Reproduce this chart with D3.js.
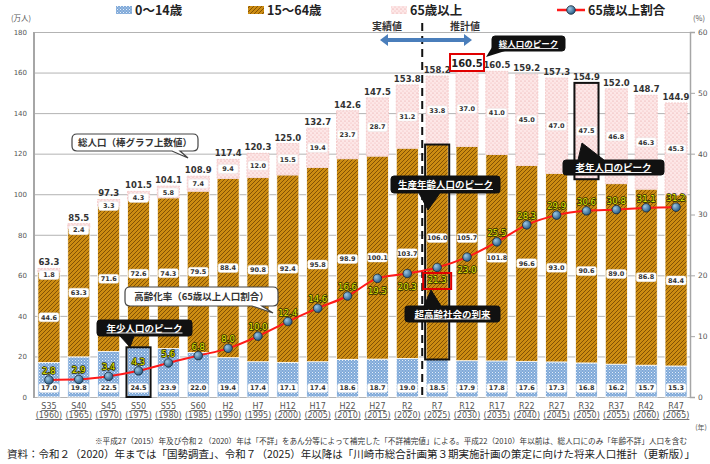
<!DOCTYPE html>
<html><head><meta charset="utf-8">
<script src="https://cdn.jsdelivr.net/npm/d3@7"></script>
<style>body{margin:0;background:#fff}svg{display:block}</style>
</head><body>
<svg id="c" width="710" height="464"></svg>
<script>
const categories = ["S35","S40","S45","S50","S55","S60","H2","H7","H12","H17","H22","H27","R2","R7","R12","R17","R22","R27","R32","R37","R42","R47"];
const years = ["(1960)","(1965)","(1970)","(1975)","(1980)","(1985)","(1990)","(1995)","(2000)","(2005)","(2010)","(2015)","(2020)","(2025)","(2030)","(2035)","(2040)","(2045)","(2050)","(2055)","(2060)","(2065)"];
const young   = [17.0,19.8,22.5,24.5,23.9,22.0,19.4,17.4,17.1,17.4,18.6,18.7,19.0,18.5,17.9,17.8,17.6,17.3,16.8,16.2,15.7,15.3];
const working = [44.6,63.3,71.6,72.6,74.3,79.5,88.4,90.8,92.4,95.8,98.9,100.1,103.7,106.0,105.7,101.8,96.6,93.0,90.6,89.0,86.8,84.4];
const elderly = [1.8,2.4,3.3,4.3,5.8,7.4,9.4,12.0,15.5,19.4,23.7,28.7,31.2,33.8,37.0,41.0,45.0,47.0,47.5,46.8,46.3,45.3];
const totals  = [63.3,85.5,97.3,101.5,104.1,108.9,117.4,120.3,125.0,132.7,142.6,147.5,153.8,158.2,160.5,160.5,159.2,157.3,154.9,152.0,148.7,144.9];
const ratio   = [2.8,2.9,3.4,4.3,5.6,6.8,8.0,10.0,12.4,14.6,16.6,19.5,20.3,21.3,23.0,25.5,28.3,29.9,30.6,30.8,31.1,31.2];
const leftTicks = [0,20,40,60,80,100,120,140,160,180];
const rightTicks = [0,10,20,30,40,50,60];
const legendLabels = ["0～14歳","15～64歳","65歳以上","65歳以上割合"];

const JP = "'Noto Sans CJK JP','Noto Sans',sans-serif";
const NUM = "'DejaVu Sans',sans-serif";
const svg = d3.select("#c");
const x = d3.scaleBand().domain(categories).range([34,691]).paddingInner(0.26).paddingOuter(0.13);
const y = d3.scaleLinear().domain([0,180]).range([397,32]);
const y2 = d3.scaleLinear().domain([0,60]).range([397,32]);
const bw = x.bandwidth();
const cx = c => x(c) + bw/2;

// patterns
const defs = svg.append("defs");
const pb = defs.append("pattern").attr("id","pBlue").attr("patternUnits","userSpaceOnUse").attr("width",3).attr("height",3);
pb.append("rect").attr("width",3).attr("height",3).attr("fill","#7fa9d9");
pb.append("rect").attr("x",0).attr("y",0).attr("width",1).attr("height",1).attr("fill","#e4eef9");
pb.append("rect").attr("x",1.5).attr("y",1.5).attr("width",1).attr("height",1).attr("fill","#c6d9ef");
const po = defs.append("pattern").attr("id","pOrange").attr("patternUnits","userSpaceOnUse").attr("width",4).attr("height",4);
po.append("rect").attr("width",4).attr("height",4).attr("fill","#cc8c12");
po.append("path").attr("d","M-1,1 l2,-2 M0,4 l4,-4 M3,5 l2,-2").attr("stroke","#7a4c02").attr("stroke-width",0.9);
const pp = defs.append("pattern").attr("id","pPink").attr("patternUnits","userSpaceOnUse").attr("width",4).attr("height",4);
pp.append("rect").attr("width",4).attr("height",4).attr("fill","#fde7e7");
pp.append("circle").attr("cx",1).attr("cy",1).attr("r",0.6).attr("fill","#e49a9a");
pp.append("circle").attr("cx",3).attr("cy",3).attr("r",0.6).attr("fill","#eeb4b4");
const rg = defs.append("radialGradient").attr("id","gMark").attr("cx","35%").attr("cy","35%").attr("r","65%");
rg.append("stop").attr("offset","0%").attr("stop-color","#9cc8e6");
rg.append("stop").attr("offset","100%").attr("stop-color","#2a5d86");

// grid + left axis
const gl = svg.append("g").attr("transform","translate(34,0)")
  .call(d3.axisLeft(y).tickValues(leftTicks).tickSize(-656).tickPadding(7));
gl.select(".domain").remove();
gl.selectAll(".tick line").attr("stroke","#b3b3b3").attr("stroke-width",1);
gl.selectAll(".tick text").attr("fill","#555").style("font-family",NUM).style("font-size","7px");
svg.append("line").attr("x1",34).attr("x2",34).attr("y1",32).attr("y2",398).attr("stroke","#a6a6a6").attr("stroke-width",2);

// right axis
const gr = svg.append("g").attr("transform","translate(690,0)")
  .call(d3.axisRight(y2).tickValues(rightTicks).tickSize(5).tickPadding(3));
gr.select(".domain").attr("stroke","#a6a6a6").attr("stroke-width",1.5);
gr.selectAll(".tick line").attr("stroke","#a6a6a6");
gr.selectAll(".tick text").attr("fill","#555").style("font-family",NUM).style("font-size","7.5px");

svg.append("text").attr("x",21).attr("y",21).attr("text-anchor","middle").attr("fill","#555").style("font-family",JP).style("font-size","7.5px").text("(万人)");
svg.append("text").attr("x",699).attr("y",21).attr("text-anchor","middle").attr("fill","#555").style("font-family",JP).style("font-size","7.5px").text("(%)");

// bars
const stackData = categories.map((c,i)=>({c, young:young[i], working:working[i], elderly:elderly[i]}));
const keys = ["young","working","elderly"];
const fills = {young:"url(#pBlue)", working:"url(#pOrange)", elderly:"url(#pPink)"};
const series = d3.stack().keys(keys)(stackData);
series.forEach(s=>{
  svg.append("g").selectAll("rect").data(s).join("rect")
    .attr("x",d=>x(d.data.c)).attr("width",bw)
    .attr("y",d=>y(d[1])).attr("height",d=>y(d[0])-y(d[1]))
    .attr("fill",fills[s.key])
    .attr("stroke", s.key==="elderly" ? "#f3c4c4" : "#ffffff")
    .attr("stroke-width",0.8).attr("stroke-dasharray", s.key==="elderly" ? "2,1" : null);
});

// segment label helper
function boxLabel(g, cxv, cyv, txt){
  const w = 20, h = 9;
  g.append("rect").attr("x",cxv-w/2).attr("y",cyv-h/2).attr("width",w).attr("height",h).attr("rx",2)
    .attr("fill","#fff").attr("stroke","#e6e6e6").attr("stroke-width",0.4);
  g.append("text").attr("x",cxv).attr("y",cyv+2.3).attr("text-anchor","middle")
    .attr("fill","#333").style("font-family",NUM).style("font-size","6.5px").style("font-weight","bold").text(txt);
}
const lbl = svg.append("g");
const sY = series[0], sW = series[1], sE = series[2];
categories.forEach((c,i)=>{
  boxLabel(lbl, cx(c), 388, young[i].toFixed(1));
  let wy = y((sW[i][0]+sW[i][1])/2);
  if (c==="R7"||c==="R12") wy = 238;
  boxLabel(lbl, cx(c), wy, working[i].toFixed(1));
  const top = y(sE[i][1]);
  const ey = Math.max(y((sE[i][0]+sE[i][1])/2), top+6.5);
  boxLabel(lbl, cx(c), ey, elderly[i].toFixed(1));
});

// total labels
categories.forEach((c,i)=>{
  if (c==="R12") return;
  svg.append("text").attr("x",cx(c)).attr("y",y(sE[i][1])-3).attr("text-anchor","middle")
    .attr("fill","#333").style("font-family",NUM).style("font-size","8.5px").style("font-weight","bold").text(totals[i].toFixed(1));
});
// peak total red box
{
  const i = categories.indexOf("R12");
  const c = cx("R12");
  svg.append("rect").attr("x",c-17).attr("y",54).attr("width",34).attr("height",17).attr("fill","#fff").attr("stroke","#e00000").attr("stroke-width",2);
  svg.append("text").attr("x",c).attr("y",66.5).attr("text-anchor","middle").attr("fill","#222")
    .style("font-family",NUM).style("font-size","10px").style("font-weight","bold").text(totals[i].toFixed(1));
}

// dashed divider
const divX = (cx("R2")+cx("R7"))/2;
svg.append("line").attr("x1",divX).attr("x2",divX).attr("y1",23).attr("y2",397)
  .attr("stroke","#111").attr("stroke-width",2).attr("stroke-dasharray","8,5");

// arrow
svg.append("path").attr("d","M380,40 L388,34 L388,38 L464,38 L464,34 L472,40 L464,46 L464,42 L388,42 L388,46 Z")
  .attr("fill","#4a7ebb");
svg.append("text").attr("x",387).attr("y",30).attr("text-anchor","middle").attr("fill","#333").style("font-family",JP).style("font-size","10px").style("font-weight","bold").text("実績値");
svg.append("text").attr("x",465).attr("y",30).attr("text-anchor","middle").attr("fill","#333").style("font-family",JP).style("font-size","10px").style("font-weight","bold").text("推計値");

// highlight rectangles
function hl(c, s, i){
  svg.append("rect").attr("x",x(c)-1).attr("width",bw+2).attr("y",y(s[i][1])).attr("height",y(s[i][0])-y(s[i][1]))
    .attr("fill","none").attr("stroke","#111").attr("stroke-width",2);
}
hl("S50", sY, 3);
hl("R7", sW, 13);
hl("R32", sE, 18);

// line
const line = d3.line().x((d,i)=>cx(categories[i])).y(d=>y2(d)).curve(d3.curveMonotoneX);
svg.append("path").datum(ratio).attr("d",line).attr("fill","none").attr("stroke","#ff1a1a").attr("stroke-width",2);
svg.append("g").selectAll("circle").data(ratio).join("circle")
  .attr("cx",(d,i)=>cx(categories[i])).attr("cy",d=>y2(d)).attr("r",4.3)
  .attr("fill","url(#gMark)").attr("stroke","#1b2a38").attr("stroke-width",0.8);
const below = new Set(["H27","R2","R7","R12"]);
categories.forEach((c,i)=>{
  const yy = below.has(c) ? y2(ratio[i])+16 : y2(ratio[i])-6;
  svg.append("text").attr("x",cx(c)).attr("y",yy).attr("text-anchor","middle")
    .attr("fill","#e8e800").attr("stroke","#2b2b00").attr("stroke-width",1.6).attr("paint-order","stroke")
    .attr("stroke-linejoin","round")
    .style("font-family",NUM).style("font-size","8.5px").text(ratio[i].toFixed(1));
});
{
  const c = cx("R7");
  svg.append("rect").attr("x",c-14).attr("y",273).attr("width",28).attr("height",16).attr("fill","none").attr("stroke","#e00000").attr("stroke-width",2);
}

// x axis labels
categories.forEach((c,i)=>{
  svg.append("text").attr("x",cx(c)).attr("y",409).attr("text-anchor","middle").attr("fill","#555")
    .style("font-family",NUM).style("font-size","8px").style("text-decoration","underline").text(c);
  svg.append("text").attr("x",cx(c)).attr("y",418).attr("text-anchor","middle").attr("fill","#555")
    .style("font-family",NUM).style("font-size","8px").style("text-decoration","underline").text(years[i]);
});
svg.append("text").attr("x",701).attr("y",430).attr("text-anchor","middle").attr("fill","#555").style("font-family",JP).style("font-size","7px").text("(年)");

// callouts
function callout(x0,y0,x1,y1,tail,opt){
  const r = opt.r||4;
  let d;
  if (tail && tail.side==="bottom"){
    d = `M${x0+r},${y0} H${x1-r} Q${x1},${y0} ${x1},${y0+r} V${y1-r} Q${x1},${y1} ${x1-r},${y1} H${tail.b} L${tail.px},${tail.py} L${tail.a},${y1} H${x0+r} Q${x0},${y1} ${x0},${y1-r} V${y0+r} Q${x0},${y0} ${x0+r},${y0} Z`;
  } else if (tail && tail.side==="top"){
    d = `M${x0+r},${y0} H${tail.a} L${tail.px},${tail.py} L${tail.b},${y0} H${x1-r} Q${x1},${y0} ${x1},${y0+r} V${y1-r} Q${x1},${y1} ${x1-r},${y1} H${x0+r} Q${x0},${y1} ${x0},${y1-r} V${y0+r} Q${x0},${y0} ${x0+r},${y0} Z`;
  } else {
    d = `M${x0+r},${y0} H${x1-r} Q${x1},${y0} ${x1},${y0+r} V${y1-r} Q${x1},${y1} ${x1-r},${y1} H${x0+r} Q${x0},${y1} ${x0},${y1-r} V${y0+r} Q${x0},${y0} ${x0+r},${y0} Z`;
  }
  svg.append("path").attr("d",d).attr("fill",opt.fill).attr("stroke",opt.stroke).attr("stroke-width",opt.sw||1);
  svg.append("text").attr("x",(x0+x1)/2).attr("y",(y0+y1)/2+3.5).attr("text-anchor","middle")
    .attr("fill",opt.color).style("font-family",JP).style("font-size",(opt.fs||9.5)+"px").style("font-weight","bold")
    .style("text-decoration",opt.ul?"underline":null).text(opt.text);
}
const white = {fill:"#fff",stroke:"#444",sw:1.2,color:"#333",r:5};
const black = {fill:"#111",stroke:"#111",sw:1,color:"#fff",ul:true,r:3};
callout(72,134,198,151,{side:"bottom",a:172,b:180,px:188,py:158},Object.assign({},white,{text:"総人口（棒グラフ上数値）"}));
callout(125,287,278,306,{side:"bottom",a:252,b:262,px:273,py:313},Object.assign({},white,{text:"高齢化率（65歳以上人口割合）"}));
callout(97,320,192,336,{side:"bottom",a:120,b:134,px:130,py:347},Object.assign({},black,{text:"年少人口のピーク"}));
callout(391,176,500,193,{side:"bottom",a:419,b:440,px:428,py:210},Object.assign({},black,{text:"生産年齢人口のピーク"}));
callout(563,160,664,175,{side:"top",a:578,b:604,px:582,py:143},Object.assign({},black,{text:"老年人口のピーク"}));
callout(405,306,500,322,{side:"top",a:424,b:441,px:431,py:290},Object.assign({},black,{text:"超高齢社会の到来"}));
svg.append("path").attr("d","M494,44 L505,51 L486,57 Z").attr("fill","#111");
callout(492,36,565,51,null,Object.assign({},black,{text:"総人口のピーク",fs:8.5}));

// legend
const lg = svg.append("g");
lg.append("rect").attr("x",116).attr("y",6).attr("width",16).attr("height",8).attr("fill","url(#pBlue)");
lg.append("rect").attr("x",248).attr("y",6).attr("width",16).attr("height",8).attr("fill","url(#pOrange)");
lg.append("rect").attr("x",391).attr("y",6).attr("width",16).attr("height",8).attr("fill","url(#pPink)");
lg.append("line").attr("x1",557).attr("x2",585).attr("y1",10).attr("y2",10).attr("stroke","#ff1a1a").attr("stroke-width",2.5);
lg.append("circle").attr("cx",571).attr("cy",10).attr("r",4.3).attr("fill","url(#gMark)").attr("stroke","#1b2a38").attr("stroke-width",0.8);
[[135,0],[267,1],[410,2],[588,3]].forEach(([lx,k])=>{
  lg.append("text").attr("x",lx).attr("y",15).attr("fill","#222").style("font-family",JP).style("font-size","12.5px").style("font-weight","bold").text(legendLabels[k]);
});

// footnotes
svg.append("text").attr("x",95).attr("y",444).attr("textLength",592).attr("lengthAdjust","spacingAndGlyphs")
  .attr("fill","#333").style("font-family",JP).style("font-size","7.5px")
  .text("※平成27（2015）年及び令和２（2020）年は「不詳」をあん分等によって補完した「不詳補完値」による。平成22（2010）年以前は、総人口にのみ「年齢不詳」人口を含む");
svg.append("text").attr("x",7).attr("y",458).attr("textLength",688).attr("lengthAdjust","spacingAndGlyphs")
  .attr("fill","#222").style("font-family",JP).style("font-size","10.5px")
  .text("資料：令和２（2020）年までは「国勢調査」、令和７（2025）年以降は「川崎市総合計画第３期実施計画の策定に向けた将来人口推計（更新版）」");
</script>
</body></html>
